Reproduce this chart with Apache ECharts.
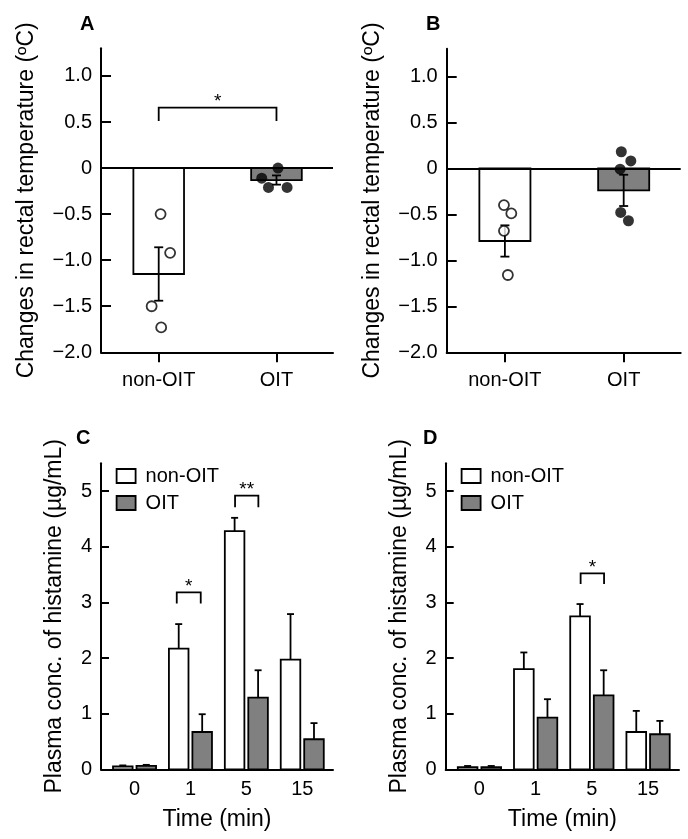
<!DOCTYPE html>
<html>
<head>
<meta charset="utf-8">
<title>Rectal temperature and plasma histamine</title>
<script src="https://cdn.jsdelivr.net/npm/echarts@6/dist/echarts.min.js"></script>
<style>
  html, body { margin: 0; padding: 0; background: #fff; }
  #main { width: 688px; height: 839px; }
</style>
</head>
<body>
<div id="main"></div>
<script>
// A, B: changes in rectal temperature
var groups = ['non-OIT', 'OIT'];
var tempTickVals = [-2, -1.5, -1, -0.5, 0, 0.5, 1];
var tempTickLabels = ['−2.0', '−1.5', '−1.0', '−0.5', '0', '0.5', '1.0'];

var tempMeanA = [-1.15, -0.13];
var tempSemA = [0.29, 0.05];
var dotsNonA = [[0.016, -0.50], [0.097, -0.92], [-0.06, -1.50], [0.021, -1.73]];
var dotsOitA = [[1.013, 0.00], [0.875, -0.11], [0.932, -0.21], [1.09, -0.21]];
var sigA = [[0, 1, 0.657, 0.511]];
var sigMarksA = ['*'];

var tempMeanB = [-0.79, -0.24];
var tempSemB = [0.17, 0.17];
var dotsNonB = [[-0.008, -0.40], [0.054, -0.49], [-0.008, -0.68], [0.025, -1.16]];
var dotsOitB = [[0.98, 0.18], [1.06, 0.08], [0.97, -0.01], [0.975, -0.48], [1.04, -0.57]];

// C, D: plasma histamine
var timeLabels = ['0', '1', '5', '15'];
var histTickVals = [0, 1, 2, 3, 4, 5];

var histNonC = [0.05, 2.17, 4.28, 1.97];
var semNonC = [0.02, 0.44, 0.24, 0.82];
var histOitC = [0.06, 0.67, 1.29, 0.54];
var semOitC = [0.02, 0.32, 0.49, 0.29];
var sigC = [[0.755, 1.184, 3.18, 2.98], [1.798, 2.215, 4.92, 4.71]];
var sigMarksC = ['*', '**'];

var histNonD = [0.04, 1.80, 2.75, 0.67];
var semNonD = [0.02, 0.30, 0.22, 0.38];
var histOitD = [0.04, 0.93, 1.33, 0.63];
var semOitD = [0.02, 0.33, 0.45, 0.24];
var sigD = [[1.80, 2.217, 3.52, 3.33]];
var sigMarksD = ['*'];

var FONT = 'Liberation Sans, Arial, Helvetica, sans-serif';
var GRAY = '#808080';
var LW = 1.8;
var BAR_OFF = 0.21; // 组内两柱的偏移

function bars(gi, name, xs, vals, w, fills) {
  return {
    type: 'custom', name: name, xAxisIndex: gi, yAxisIndex: gi, z: 2,
    itemStyle: { color: fills[0] },
    data: xs.map(function (x, i) { return [x, vals[i]]; }),
    renderItem: function (params, api) {
      var x = api.value(0), v = api.value(1);
      var a = api.coord([x - w / 2, 0]), b = api.coord([x + w / 2, v]);
      return {
        type: 'rect',
        shape: { x: a[0], y: Math.min(a[1], b[1]), width: b[0] - a[0], height: Math.abs(b[1] - a[1]) },
        style: { fill: fills[params.dataIndex % fills.length], stroke: '#000', lineWidth: LW }
      };
    }
  };
}

function errs(gi, xs, means, sems, both, cap) {
  return {
    type: 'custom', xAxisIndex: gi, yAxisIndex: gi, z: 3, silent: true,
    data: xs.map(function (x, i) { return [x, means[i], sems[i]]; }),
    renderItem: function (params, api) {
      var x = api.value(0), m = api.value(1), s = api.value(2);
      var top = api.coord([x, m + s]), bot = api.coord([x, both ? m - s : m]);
      var st = { stroke: '#000', lineWidth: LW };
      var kids = [
        { type: 'line', shape: { x1: top[0], y1: top[1], x2: bot[0], y2: bot[1] }, style: st },
        { type: 'line', shape: { x1: top[0] - cap, y1: top[1], x2: top[0] + cap, y2: top[1] }, style: st }
      ];
      if (both) kids.push({ type: 'line', shape: { x1: bot[0] - cap, y1: bot[1], x2: bot[0] + cap, y2: bot[1] }, style: st });
      return { type: 'group', children: kids };
    }
  };
}

function brackets(gi, rows, marks) {
  return {
    type: 'custom', xAxisIndex: gi, yAxisIndex: gi, z: 3, silent: true,
    data: rows,
    renderItem: function (params, api) {
      var x1 = api.value(0), x2 = api.value(1), yt = api.value(2), yd = api.value(3);
      var p1 = api.coord([x1, yd]), p2 = api.coord([x1, yt]), p3 = api.coord([x2, yt]), p4 = api.coord([x2, yd]);
      return {
        type: 'group',
        children: [
          { type: 'polyline', shape: { points: [p1, p2, p3, p4] }, style: { fill: 'none', stroke: '#000', lineWidth: LW } },
          { type: 'text', style: { text: marks[params.dataIndex], x: (p2[0] + p3[0]) / 2, y: p2[1] - 6,
            align: 'center', verticalAlign: 'middle', fontSize: 19, fontFamily: FONT, fill: '#000' } }
        ]
      };
    }
  };
}

function dots(gi, pts, filled) {
  return {
    type: 'scatter', xAxisIndex: gi, yAxisIndex: gi, z: 4, silent: true,
    symbol: 'circle', symbolSize: filled ? 11 : 10,
    itemStyle: filled ? { color: '#000' } : { color: '#fff', borderColor: '#000', borderWidth: LW },
    data: pts
  };
}

function yAxisOf(gi, isTemp) {
  var vals = isTemp ? tempTickVals : histTickVals;
  return {
    type: 'value', gridIndex: gi,
    min: isTemp ? -2 : 0, max: isTemp ? 1.3 : 5.5,
    name: isTemp ? 'Changes in rectal temperature (ºC)' : 'Plasma conc. of histamine (µg/mL)',
    nameLocation: 'middle', nameGap: isTemp ? 63 : 35,
    nameTextStyle: { fontSize: 23, color: '#000', fontFamily: FONT },
    axisLine: { show: true, onZero: false, lineStyle: { color: '#000', width: 2 } },
    axisTick: { show: true, inside: true, length: isTemp ? 10 : 8, customValues: vals, lineStyle: { color: '#000', width: 2 } },
    axisLabel: {
      customValues: vals, fontSize: 20, color: '#000', fontFamily: FONT, margin: 9,
      formatter: function (v) {
        if (!isTemp) return String(v);
        var i = tempTickVals.indexOf(v);
        return i < 0 ? '' : tempTickLabels[i];
      }
    },
    splitLine: { show: false }
  };
}

function xAxisOf(gi, isTemp) {
  var vals = isTemp ? [0, 1] : [0, 1, 2, 3];
  return {
    type: 'value', gridIndex: gi,
    min: isTemp ? -0.49 : -0.6, max: isTemp ? 1.48 : 3.55,
    name: isTemp ? '' : 'Time (min)',
    nameLocation: 'middle', nameGap: 39,
    nameTextStyle: { fontSize: 23, color: '#000', fontFamily: FONT },
    axisLine: { show: true, onZero: false, lineStyle: { color: '#000', width: 2 } },
    axisTick: { show: isTemp, inside: false, length: 10, customValues: vals, lineStyle: { color: '#000', width: 2 } },
    axisLabel: {
      customValues: vals, fontSize: 20, color: '#000', fontFamily: FONT, margin: isTemp ? 18.5 : 10,
      formatter: function (v) { return isTemp ? groups[v] : timeLabels[v]; }
    },
    splitLine: { show: false }
  };
}

var zeroLine = {
  silent: true, symbol: 'none', label: { show: false },
  lineStyle: { color: '#000', width: 2, type: 'solid' },
  data: [{ yAxis: 0 }]
};

function tempPanel(gi, means, sems, nonPts, oitPts) {
  var s = [
    bars(gi, 'temp', [0, 1], means, 0.43, ['#fff', GRAY]),
    errs(gi, [0, 1], means, sems, true, 4.5),
    dots(gi, nonPts, false),
    dots(gi, oitPts, true)
  ];
  s[2].markLine = zeroLine;
  return s;
}

function histPanel(gi, non, semNon, oit, semOit, sig, marks) {
  var xn = timeLabels.map(function (t, i) { return i - BAR_OFF; });
  var xo = timeLabels.map(function (t, i) { return i + BAR_OFF; });
  return [
    bars(gi, 'non-OIT', xn, non, 0.35, ['#fff']),
    bars(gi, 'OIT', xo, oit, 0.35, [GRAY]),
    errs(gi, xn, non, semNon, false, 3.5),
    errs(gi, xo, oit, semOit, false, 3.5),
    brackets(gi, sig, marks)
  ];
}

var series = [].concat(
  tempPanel(0, tempMeanA, tempSemA, dotsNonA, dotsOitA),
  [brackets(0, sigA, sigMarksA)],
  tempPanel(1, tempMeanB, tempSemB, dotsNonB, dotsOitB),
  histPanel(2, histNonC, semNonC, histOitC, semOitC, sigC, sigMarksC),
  histPanel(3, histNonD, semNonD, histOitD, semOitD, sigD, sigMarksD)
);

function legendOf(left) {
  return {
    orient: 'vertical', left: left, top: 466, padding: 0,
    itemWidth: 19, itemHeight: 14, itemGap: 7, selectedMode: false,
    textStyle: { fontSize: 20, color: '#000', fontFamily: FONT, padding: [0, 0, 0, 5] },
    data: [
      { name: 'non-OIT', icon: 'rect', itemStyle: { color: '#fff', borderColor: '#000', borderWidth: LW } },
      { name: 'OIT', icon: 'rect', itemStyle: { color: GRAY, borderColor: '#000', borderWidth: LW } }
    ]
  };
}

function panelLabel(text, left, top) {
  return { text: text, left: left, top: top, padding: 0,
    textStyle: { fontSize: 20, fontWeight: 'bold', color: '#000', fontFamily: FONT } };
}

var chart = echarts.init(document.getElementById('main'), null, { renderer: 'canvas' });
chart.setOption({
  animation: false,
  backgroundColor: '#fff',
  textStyle: { fontFamily: FONT, color: '#000' },
  title: [
    panelLabel('A', 80, 14),
    panelLabel('B', 426, 14),
    panelLabel('C', 76, 428),
    panelLabel('D', 423, 428)
  ],
  legend: [legendOf(115.7), legendOf(460.7)],
  grid: [
    { left: 101, top: 48.3, width: 232, height: 304, outerBoundsMode: 'none' },
    { left: 446.7, top: 48.7, width: 234, height: 303.6, outerBoundsMode: 'none' },
    { left: 101, top: 463.3, width: 232, height: 306, outerBoundsMode: 'none' },
    { left: 445.7, top: 463.3, width: 233.3, height: 306, outerBoundsMode: 'none' }
  ],
  xAxis: [xAxisOf(0, true), xAxisOf(1, true), xAxisOf(2, false), xAxisOf(3, false)],
  yAxis: [yAxisOf(0, true), yAxisOf(1, true), yAxisOf(2, false), yAxisOf(3, false)],
  series: series
});
</script>
</body>
</html>
